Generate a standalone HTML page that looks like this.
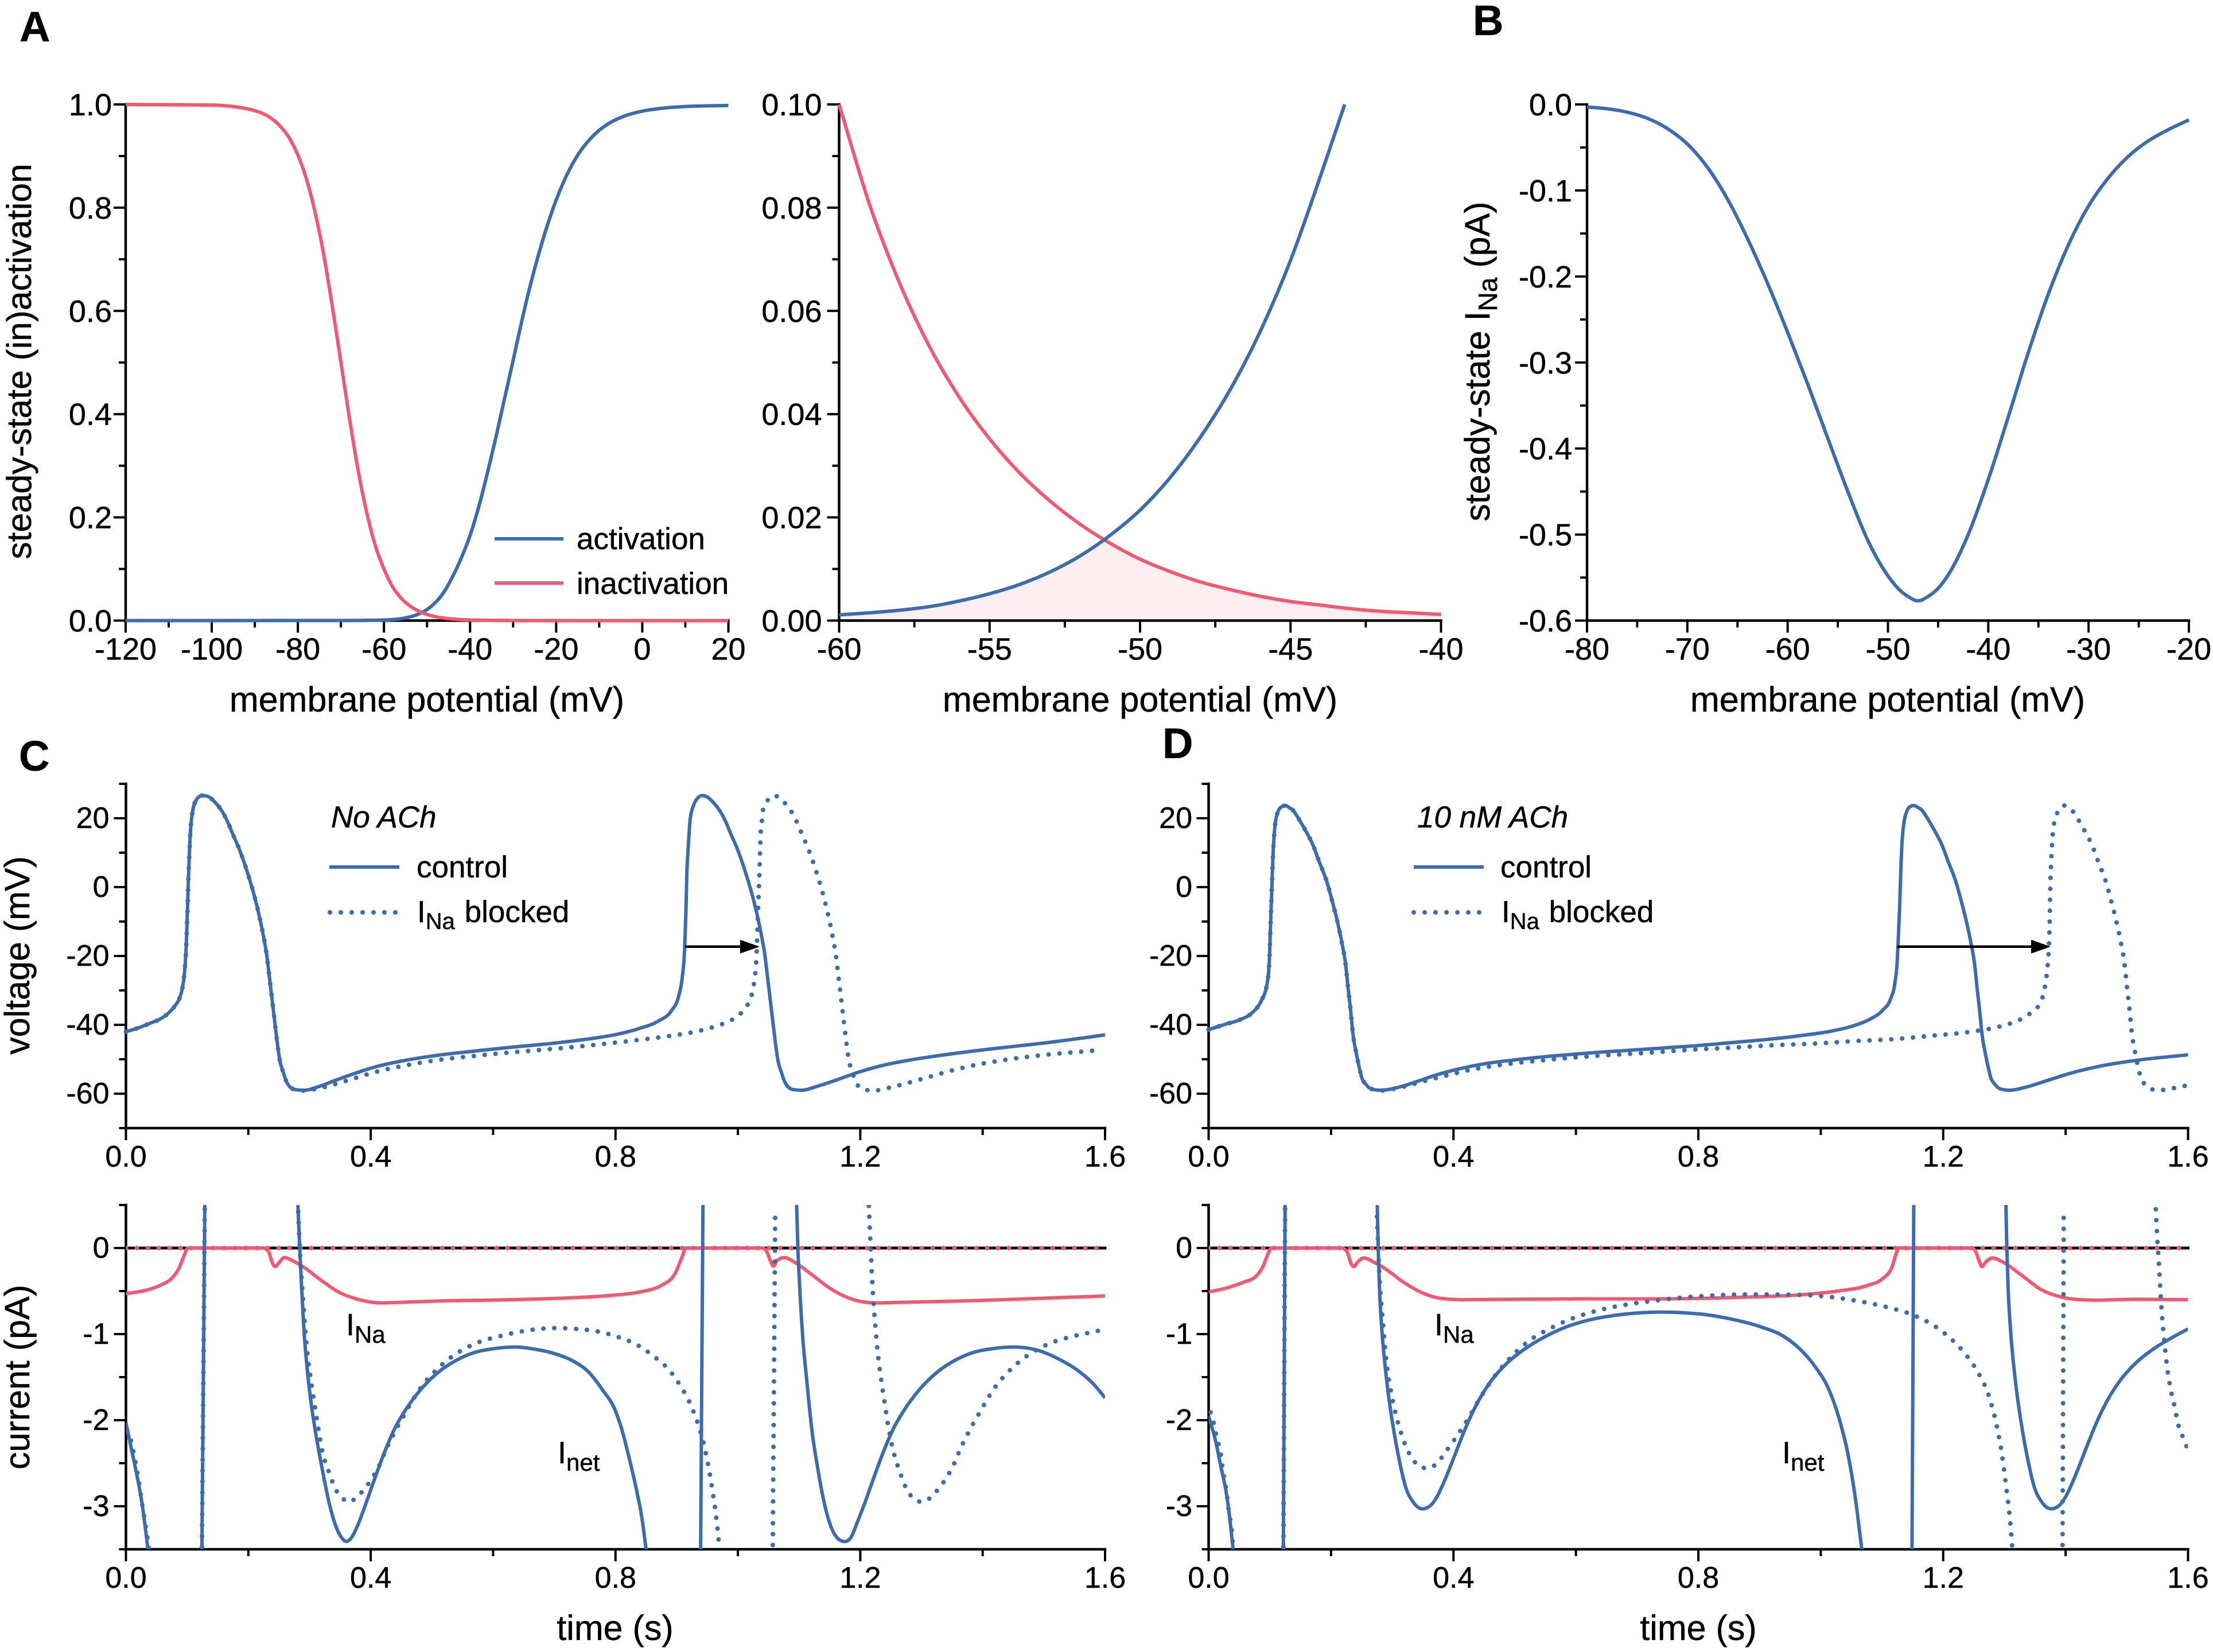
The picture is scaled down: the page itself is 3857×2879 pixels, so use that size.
<!DOCTYPE html>
<html lang="en">
<head>
<meta charset="utf-8">
<title>Steady-state sodium current and action potentials</title>
<style>
html,body{margin:0;padding:0;background:#fff;}
svg{display:block;}
text{font-family:"Liberation Sans",Arial,sans-serif;fill:#000;stroke:#000;stroke-width:.5px;}
</style>
</head>
<body>
<svg id="fig" xmlns="http://www.w3.org/2000/svg" width="3857" height="2879" viewBox="0 0 3857 2879">
<rect x="0" y="0" width="3857" height="2879" fill="#fff"/>
<defs>
<clipPath id="clip-ci"><rect x="219.5" y="2100" width="1706.5" height="600"/></clipPath>
<clipPath id="clip-di"><rect x="2106.5" y="2100" width="1707" height="600"/></clipPath>
</defs>

<g id="panel-a1"></g>
<g id="panel-a2"></g>
<g id="panel-b"></g>
<g id="panel-cv"></g>
<g id="panel-ci"></g>
<g id="panel-dv"></g>
<g id="panel-di"></g>

<g font-weight="bold" font-size="74">
<text x="34" y="72">A</text>
<text x="2567" y="61">B</text>
<text x="33" y="1343">C</text>
<text x="2026" y="1321">D</text>
</g>

<g font-size="61">
<text x="744" y="1240" text-anchor="middle">membrane potential (mV)</text>
<text x="1987" y="1240" text-anchor="middle">membrane potential (mV)</text>
<text x="3290" y="1240" text-anchor="middle">membrane potential (mV)</text>
<text x="1072" y="2858" text-anchor="middle">time (s)</text>
<text x="2960" y="2858" text-anchor="middle">time (s)</text>
<text transform="translate(54,630) rotate(-90)" text-anchor="middle" font-size="60.5">steady-state (in)activation</text>
<text transform="translate(2596,630) rotate(-90)" text-anchor="middle">steady-state I<tspan font-size="46" dy="13">Na</tspan><tspan dy="-13"> (pA)</tspan></text>
<text transform="translate(51,1665) rotate(-90)" text-anchor="middle">voltage (mV)</text>
<text transform="translate(51,2400) rotate(-90)" text-anchor="middle">current (pA)</text>
</g>

<g font-size="53">
<line x1="862" y1="939" x2="982" y2="939" stroke="#3c6cae" stroke-width="6"/>
<text x="1005" y="957">activation</text>
<line x1="862" y1="1016" x2="982" y2="1016" stroke="#ef5a70" stroke-width="6"/>
<text x="1005" y="1035">inactivation</text>
</g>

<g font-size="53">
<text x="577" y="1442" font-style="italic">No ACh</text>
<line x1="574" y1="1511" x2="696" y2="1511" stroke="#3c6cae" stroke-width="6"/>
<text x="726" y="1529">control</text>
<line x1="575" y1="1590" x2="696" y2="1590" stroke="#3c6cae" stroke-width="8" stroke-linecap="round" stroke-dasharray="0 19"/>
<text x="727" y="1607">I<tspan font-size="40" dy="12">Na</tspan><tspan dy="-12" dx="2"> blocked</tspan></text>
</g>

<g font-size="53">
<text x="2470" y="1442" font-style="italic">10 nM ACh</text>
<line x1="2464" y1="1511" x2="2586" y2="1511" stroke="#3c6cae" stroke-width="6"/>
<text x="2615" y="1529">control</text>
<line x1="2464" y1="1590" x2="2585" y2="1590" stroke="#3c6cae" stroke-width="8" stroke-linecap="round" stroke-dasharray="0 19"/>
<text x="2617" y="1607">I<tspan font-size="40" dy="12">Na</tspan><tspan dy="-12" dx="2"> blocked</tspan></text>
</g>

<g font-size="54">
<text x="603" y="2327">I<tspan font-size="42" dy="13">Na</tspan></text>
<text x="972" y="2550">I<tspan font-size="42" dy="13">net</tspan></text>
<text x="2500" y="2327">I<tspan font-size="42" dy="13">Na</tspan></text>
<text x="3106" y="2550">I<tspan font-size="42" dy="13">net</tspan></text>
</g>
</svg>

<script>
/* ---------- Panel A (left) ---------- */
const a1XLabels = ['-120','-100','-80','-60','-40','-20','0','20'];
const a1XMinor = [-110,-90,-70,-50,-30,-10,10];
const a1YLabels = ['0.0','0.2','0.4','0.6','0.8','1.0'];
const a1YMinor = [0.1,0.3,0.5,0.7,0.9];
const a1InactV = [-120,-100,-95,-90,-88,-86,-84,-82,-80,-78,-76,-74,-72,-70,-68,-66,-64,-62,-60,-58,-56,-54,-52,-50,-48,-46,-44,-42,-40,-30,20];
const a1Inact = [1,.9987,.996,.988,.982,.972,.957,.935,.902,.855,.791,.709,.609,.5,.391,.291,.209,.145,.1,.0655,.0432,.0286,.0187,.0119,.0075,.0047,.003,.0018,.0012,.0001,0];
const a1ActV = [-120,-70,-60,-55,-52,-50,-48,-46,-44,-42,-40,-38,-36,-34,-32,-30,-28,-26,-24,-22,-20,-18,-16,-14,-12,-10,-8,-6,-4,-2,0,5,10,20];
const a1Act = [0,.0001,.0011,.0052,.0125,.0214,.0355,.0561,.0862,.122,.165,.22,.285,.355,.43,.504,.58,.65,.712,.767,.815,.855,.888,.914,.934,.95,.962,.971,.978,.983,.987,.993,.996,.998];

/* ---------- Panel A (right) ---------- */
const a2XLabels = ['-60','-55','-50','-45','-40'];
const a2XMinor = [-57.5,-52.5,-47.5,-42.5];
const a2YLabels = ['0.00','0.02','0.04','0.06','0.08','0.10'];
const a2YMinor = [.01,.03,.05,.07,.09];
const a2InactV = [-60,-59,-58,-57,-56,-55,-54,-53,-52,-51,-50,-49,-48,-47,-46,-45,-44,-43,-42,-41,-40];
const a2Inact = [.1,.0808,.0655,.0531,.0432,.0352,.0286,.0232,.0187,.015,.0119,.0095,.0075,.006,.0047,.0037,.003,.0023,.0018,.0015,.0012];
const a2ActV = [-60,-59,-58,-57,-56,-55,-54,-53,-52,-51,-50,-49,-48,-47,-46,-45,-44,-43.2];
const a2Act = [.0011,.0015,.002,.0027,.0038,.0052,.007,.0094,.0125,.0165,.0214,.0277,.0355,.0448,.0561,.0698,.0862,.1];

/* ---------- Panel B ---------- */
const bXLabels = ['-80','-70','-60','-50','-40','-30','-20'];
const bXMinor = [-75,-65,-55,-45,-35,-25];
const bYLabels = ['-0.6','-0.5','-0.4','-0.3','-0.2','-0.1','0.0'];
const bYMinor = [-.55,-.45,-.35,-.25,-.15,-.05];
const bV = [-80,-78,-76,-74,-72,-70,-68,-66,-64,-62,-60,-58,-56,-54,-52,-50,-49,-48,-47,-46,-45,-44,-42,-40,-38,-36,-34,-32,-30,-28,-26,-24,-22,-20];
const bINa = [-.003,-.005,-.009,-.016,-.028,-.046,-.073,-.11,-.156,-.208,-.265,-.325,-.388,-.45,-.507,-.548,-.5625,-.572,-.577,-.572,-.5625,-.547,-.5,-.436,-.363,-.288,-.22,-.163,-.118,-.085,-.06,-.042,-.029,-.018];

/* ---------- Shared time-course axes ---------- */
const timeLabels = ['0.0','0.4','0.8','1.2','1.6'];
const timeMinor = [.2,.6,1,1.4];
const voltLabels = ['-60','-40','-20','0','20'];
const voltMinor = [-70,-50,-30,-10,10,30];
const currLabels = ['-3','-2','-1','0'];
const currMinor = [-3.5,-2.5,-1.5,-.5,.5];

/* ---------- Panel C voltage ---------- */
const cvControlT = [0,.02,.04,.057,.07,.08,.087,.092,.095,.097,.0985,.0997,.101,.102,.1035,.105,.107,.11,.114,.119,.125,
  .1346,.1442,.152,.1585,.1645,.1753,.1848,.1938,.2009,.2093,.217,.2242,.2302,.2344,.2386,.2428,.247,.2517,.2565,.264,.276,
  .292,.314,.344,.374,.41,.451,.511,.571,.63,.69,.73,.768,.804,.84,.87,.891,.903,.909,.913,.915,.9165,.919,.922,.927,.933,.9416,
  .9486,.9582,.966,.9725,.9785,.9893,.9988,1.0078,1.0149,1.0233,1.031,1.0382,1.0442,1.0484,1.0526,1.0568,1.061,1.0657,1.0705,1.078,1.09,1.105,
  1.127,1.163,1.198,1.234,1.282,1.33,1.39,1.449,1.509,1.569,1.6];
const cvControlV = [-42,-40.9,-39.5,-38.2,-36.5,-34.5,-32.5,-29.5,-26,-22,-17,-11,-4,2,9,15,19.5,23,25,26.2,26.6,
  26.3,24.9,23.3,21.6,19.6,15.1,11.2,6.8,2.9,-2.2,-7.7,-13.8,-19.9,-26.1,-32.3,-38.6,-44.8,-50.6,-53.5,-57.1,-58.8,
  -59,-58,-56,-54.1,-52.1,-50.5,-48.8,-47.6,-46.5,-45.5,-44.7,-43.8,-42.7,-41,-38.9,-36,-31.8,-26.3,-17.8,-7.6,3.5,12,19.7,23.5,25.6,26.6,
  26.3,24.9,23.3,21.6,19.6,15.1,11.2,6.8,2.9,-2.2,-7.7,-13.8,-19.9,-26.1,-32.3,-38.6,-44.8,-50.6,-53.5,-57.1,-58.8,-59,
  -58,-55.9,-53.7,-51.9,-50.2,-48.9,-47.5,-46.3,-45.1,-43.7,-42.9];
const cvBlockedLateT = [.292,.314,.344,.374,.41,.451,.511,.571,.63,.69,.74,.788,.837,.89,.933,.971,.985,.997,1.0067,1.0133,1.02,1.0246,1.0276,1.0294,1.0306,1.0318,1.0324,1.033,1.0336,1.0342,1.035,1.0355,1.036,1.0365,1.037,1.039,1.04,1.044,1.0515,1.058,
  1.0646,1.0742,1.082,1.0885,1.0945,1.1053,1.1148,1.1238,1.1309,1.1393,1.147,1.1542,1.1602,1.1644,1.1686,1.1728,1.177,1.1817,1.1865,1.194,1.206,
  1.222,1.249,1.273,1.309,1.351,1.387,1.425,1.468,1.514,1.56,1.593];
const cvBlockedLateV = [-59.1,-58.5,-57.1,-55.5,-53.6,-52,-50.2,-49,-48,-47.1,-46.3,-45.4,-44.4,-43.2,-41.9,-40,-39,-37.8,-36.3,-34.8,-32.7,-29.7,-26.3,-22.9,-19.5,-13,-10,-6.7,-3.7,-.6,2.6,5.9,9,12.2,15.2,18.4,21.4,23.7,25.8,26.6,
  26.3,24.9,23.3,21.6,19.6,15.1,11.2,6.8,2.9,-2.2,-7.7,-13.8,-19.9,-26.1,-32.3,-38.6,-44.8,-50.6,-53.5,-57.1,-58.8,
  -59.1,-58.2,-57.1,-55.3,-53.2,-51.7,-50.5,-49.4,-48.5,-47.8,-47.3];
const cArrowT = [.916,1.0355];
const cArrowV = [-17.3];

/* ---------- Panel C current ---------- */
const ciNetT = [0,.01,.0185,.027,.036,null,.124,.129,null,.281,.284,.287,.291,.296,.302,.311,.32,.332,.344,.353,.36,.368,.38,.392,.404,.421,.439,.457,.481,.511,.541,.571,.6,.636,.672,.702,.7325,.756,.78,.798,.81,.822,.834,.843,.85,null,.939,.943,null,1.096,1.098,1.101,1.106,1.112,1.121,1.13,1.142,1.154,1.166,1.175,1.184,1.196,1.207,1.219,1.236,1.254,1.272,1.296,1.326,1.356,1.386,1.415,1.451,1.491,1.527,1.557,1.581,1.6];
const ciNetI = [-2.03,-2.37,-2.66,-3,-3.5,null,-3.6,.6,null,.5,0,-.45,-.97,-1.39,-1.77,-2.19,-2.54,-2.96,-3.25,-3.37,-3.41,-3.37,-3.2,-2.97,-2.73,-2.4,-2.1,-1.88,-1.65,-1.44,-1.3,-1.21,-1.17,-1.15,-1.18,-1.23,-1.32,-1.44,-1.66,-1.86,-2.1,-2.43,-2.8,-3.13,-3.5,null,-3.6,.6,null,.5,0,-.45,-1.04,-1.5,-2.12,-2.54,-2.99,-3.27,-3.39,-3.41,-3.37,-3.17,-2.97,-2.73,-2.4,-2.1,-1.88,-1.65,-1.44,-1.3,-1.21,-1.17,-1.15,-1.19,-1.3,-1.43,-1.58,-1.74];
const ciBlockedT = [.002,.008,.014,.021,.027,.033,.038,null,.124,.129,null,.2815,.284,.288,.2925,.297,.302,.307,.314,.32,.332,.344,.353,.363,.375,.386,.399,.413,.427,.442,.457,.481,.505,.535,.571,.613,.654,.702,.737,.771,.807,.834,.861,.888,.906,.924,.936,.946,.952,.958,.965,.97,null,1.057,1.061,null,1.214,1.217,1.22,1.2245,1.229,1.234,1.239,1.246,1.253,1.265,1.277,1.286,1.301,1.313,1.324,1.337,1.351,1.365,1.38,1.395,1.419,1.443,1.473,1.509,1.551,1.59];
const ciBlockedI = [-2.12,-2.23,-2.43,-2.71,-3,-3.27,-3.5,null,-3.6,.6,null,.42,0,-.45,-.9,-1.25,-1.52,-1.76,-2.08,-2.33,-2.61,-2.82,-2.9,-2.95,-2.91,-2.83,-2.71,-2.54,-2.31,-2.1,-1.91,-1.63,-1.43,-1.25,-1.11,-1.02,-.96,-.93,-.94,-.97,-1.04,-1.12,-1.25,-1.42,-1.6,-1.84,-2.07,-2.33,-2.54,-2.8,-3.15,-3.5,null,-3.45,.42,null,.49,0,-.45,-.9,-1.25,-1.52,-1.76,-2.08,-2.33,-2.61,-2.82,-2.9,-2.95,-2.91,-2.83,-2.71,-2.54,-2.31,-2.1,-1.91,-1.63,-1.43,-1.25,-1.11,-1.02,-.96];
const ciNaT = [0,.033,.057,.075,.087,.096,.101,.224,.233,.239,.244,.25,.259,.272,.29,.32,.35,.374,.398,.416,.451,.511,.63,.731,.792,.84,.876,.897,.909,.915,1.04,1.047,1.053,1.058,1.064,1.076,1.091,1.121,1.151,1.181,1.204,1.228,1.27,1.39,1.509,1.6];
const ciNaI = [-.53,-.49,-.43,-.35,-.23,-.07,0,0,-.04,-.17,-.215,-.17,-.11,-.146,-.22,-.38,-.52,-.585,-.625,-.637,-.63,-.615,-.6,-.577,-.55,-.51,-.43,-.3,-.1,0,0,-.04,-.146,-.21,-.146,-.11,-.157,-.31,-.47,-.58,-.625,-.637,-.63,-.61,-.58,-.557];
const naBlockedT = [0,1.6];
const naBlockedI = [0,0];

/* ---------- Panel D voltage ---------- */
const dvControlT = [0,.026,.05,.071,.086,.095,.099,.101,.103,.105,.108,.113,.119,.126,
  .1306,.1374,.1449,.1574,.17,.1804,.1934,.2021,.2101,.2174,.2238,.2278,.2318,.2352,.2374,.2409,.2467,.2501,.257,.2655,.281,
  .313,.343,.373,.409,.451,.499,.559,.619,.678,.744,.801,.858,.915,.973,1.018,1.053,1.081,1.101,1.114,1.121,1.125,1.127,1.129,1.131,1.133,1.136,1.141,1.146,1.152,
  1.1582,1.165,1.1725,1.185,1.1976,1.208,1.221,1.2297,1.2377,1.245,1.2514,1.2554,1.2594,1.2628,1.265,1.2685,1.2743,1.2777,1.2846,1.2931,1.3086,
  1.333,1.373,1.413,1.459,1.516,1.6];
const dvControlV = [-41.4,-39.9,-38.6,-36.5,-33,-28.5,-22,-11.8,-1.6,8.6,17.1,21.8,23.3,23.7,
  23.2,22.4,20.5,16.7,12.4,7.5,1.4,-4.2,-9.8,-15.9,-22.5,-29.3,-35.6,-41.7,-44.7,-48,-52.9,-55.3,-57.3,-58.6,-59,
  -58,-56.3,-54.5,-52.8,-51.3,-50.2,-49.1,-48.2,-47.5,-46.7,-46,-45.1,-44.2,-43,-41.8,-40.3,-38.3,-35.8,-32.5,-28,-21.2,-13.5,-5,6,13.7,18.8,22.2,23.4,23.7,
  23.2,22.4,20.5,16.7,12.4,7.5,1.4,-4.2,-9.8,-15.9,-22.5,-29.3,-35.6,-41.7,-44.7,-48,-52.9,-55.3,-57.3,-58.6,-59,
  -58.2,-56,-53.8,-51.9,-50.3,-48.7];
const dvBlockedLateT = [.281,.313,.349,.391,.427,.475,.529,.583,.643,.702,.75,.801,.858,.915,.996,1.058,1.116,1.179,1.241,1.29,1.316,1.338,1.359,1.367,1.371,1.373,1.374,1.375,1.376,1.378,1.38,1.386,1.393,1.3986,
  1.4032,1.41,1.4175,1.43,1.4426,1.453,1.466,1.4747,1.4827,1.49,1.4964,1.5004,1.5044,1.5078,1.51,1.5135,1.5193,1.5227,1.5296,1.5381,1.5536,
  1.5667,1.5793,1.5953];
const dvBlockedLateV = [-59.1,-58.2,-56.5,-54.6,-53.1,-51.7,-50.6,-49.7,-48.9,-48.3,-47.7,-47.1,-46.6,-46,-45.4,-44.7,-44.2,-43.2,-42.1,-40.6,-39.2,-37.2,-33.5,-28,-22,-16,-9.3,.1,6,12.9,17.1,21.4,23.3,23.7,
  23.2,22.4,20.5,16.7,12.4,7.5,1.4,-4.2,-9.8,-15.9,-22.5,-29.3,-35.6,-41.7,-44.7,-48,-52.9,-55.3,-57.3,-58.6,-59,
  -58.7,-58.3,-57.7];
const dArrowT = [1.127,1.3755];
const dArrowV = [-17.3];

/* ---------- Panel D current ---------- */
const diNetT = [0,.011,.02,.029,.035,.04,null,.122,.125,null,.2755,.277,.279,.283,.288,.294,.302,.311,.322,.334,.349,.361,.373,.385,.397,.409,.424,.442,.463,.487,.517,.547,.583,.619,.666,.738,.801,.853,.904,.938,.964,.99,1.013,1.03,1.044,1.056,1.067,null,1.149,1.152,null,1.3025,1.304,1.306,1.31,1.315,1.321,1.329,1.338,1.349,1.361,1.376,1.388,1.4,1.412,1.424,1.436,1.451,1.469,1.49,1.514,1.544,1.574,1.6];
const diNetI = [-1.95,-2.23,-2.54,-2.85,-3.17,-3.5,null,-3.6,.6,null,.5,0,-.45,-.95,-1.35,-1.72,-2.1,-2.45,-2.78,-2.95,-3.03,-3,-2.89,-2.71,-2.5,-2.28,-2.02,-1.76,-1.53,-1.34,-1.17,-1.04,-.92,-.84,-.78,-.744,-.765,-.824,-.92,-1.02,-1.16,-1.37,-1.64,-1.98,-2.38,-2.88,-3.5,null,-3.6,.6,null,.5,0,-.45,-.95,-1.35,-1.72,-2.1,-2.45,-2.78,-2.95,-3.03,-3,-2.89,-2.71,-2.5,-2.28,-2.02,-1.76,-1.53,-1.34,-1.17,-1.04,-.94];
const diBlockedT = [.003,.008,.014,.019,.023,.029,.033,.038,.04,null,.122,.125,null,.275,.277,.28,.283,.286,.289,.293,.298,.304,.311,.322,.332,.346,.358,.373,.388,.406,.424,.442,.463,.487,.523,.559,.601,.643,.685,.732,.761,.813,.887,.973,1.018,1.064,1.11,1.15,1.196,1.23,1.253,1.276,1.287,1.296,1.303,1.309,1.313,null,1.395,1.397,null,1.5473,1.5501,1.5524,1.5553,1.5593,1.5627,1.5667,1.5713,1.5782,1.5839,1.5936,1.5982];
const diBlockedI = [-1.91,-2.02,-2.23,-2.35,-2.57,-2.82,-3.06,-3.3,-3.5,null,-3.6,.6,null,.365,0,-.45,-.72,-.97,-1.22,-1.46,-1.67,-1.88,-2.07,-2.3,-2.44,-2.54,-2.56,-2.5,-2.36,-2.18,-1.98,-1.76,-1.53,-1.32,-1.08,-.93,-.8,-.713,-.654,-.609,-.584,-.555,-.539,-.546,-.57,-.62,-.69,-.776,-.957,-1.18,-1.4,-1.75,-2.05,-2.4,-2.78,-3.15,-3.5,null,-3.45,.4,null,.45,.07,-.18,-.56,-.94,-1.19,-1.43,-1.63,-1.85,-2.05,-2.23,-2.32];
const diNaT = [0,.026,.056,.077,.089,.098,.102,.217,.226,.232,.237,.244,.254,.268,.289,.319,.349,.379,.415,.499,.619,.744,.858,.973,1.03,1.076,1.101,1.116,1.124,1.128,1.247,1.253,1.259,1.263,1.269,1.28,1.296,1.327,1.361,1.396,1.424,1.447,1.516,1.6];
const diNaI = [-.51,-.47,-.4,-.33,-.21,-.05,0,0,-.04,-.17,-.215,-.157,-.115,-.157,-.243,-.4,-.52,-.584,-.6,-.595,-.59,-.59,-.574,-.54,-.497,-.435,-.355,-.226,-.05,0,0,-.04,-.157,-.215,-.167,-.115,-.157,-.31,-.487,-.574,-.6,-.605,-.595,-.6];

/* ---------- Drawing ---------- */
const NS = 'http://www.w3.org/2000/svg';
const BLUE = '#3c6cae';
const PINK = '#ef5a70';

function linScale(d0, d1, r0, r1) {
  return function (v) { return r0 + (v - d0) / (d1 - d0) * (r1 - r0); };
}

function drawLine(parent, x1, y1, x2, y2, width, name) {
  const el = document.createElementNS(NS, 'line');
  
  
  el.setAttribute('x1', x1);
  el.setAttribute('y1', y1);
  el.setAttribute('x2', x2);
  el.setAttribute('y2', y2);
  el.setAttribute('stroke', '#000');
  el.setAttribute('stroke-width', width);
  el.setAttribute('stroke-linecap', 'square');
  parent.appendChild(el);
  return el;
}

function drawLabel(parent, x, y, str, size, anchor, name) {
  const el = document.createElementNS(NS, 'text');
  
  
  el.setAttribute('x', x);
  el.setAttribute('y', y);
  el.setAttribute('font-size', size);
  el.setAttribute('text-anchor', anchor);
  el.textContent = str;
  parent.appendChild(el);
}

/* Monotone cubic with Steffen-limited tangents (x strictly increasing). */
function monotonePath(px, py) {
  const n = px.length;
  let d = 'M' + px[0].toFixed(2) + ' ' + py[0].toFixed(2);
  if (n < 3) {
    for (let i = 1; i < n; i++) d += 'L' + px[i].toFixed(2) + ' ' + py[i].toFixed(2);
    return d;
  }
  const dx = [], sl = [], m = new Array(n);
  for (let i = 0; i < n - 1; i++) {
    dx[i] = px[i + 1] - px[i];
    sl[i] = (py[i + 1] - py[i]) / dx[i];
  }
  m[0] = sl[0];
  m[n - 1] = sl[n - 2];
  for (let i = 1; i < n - 1; i++) {
    if (sl[i - 1] * sl[i] <= 0) {
      m[i] = 0;
    } else {
      const p = (sl[i - 1] * dx[i] + sl[i] * dx[i - 1]) / (dx[i - 1] + dx[i]);
      m[i] = 2 * Math.sign(sl[i]) * Math.min(Math.abs(sl[i - 1]), Math.abs(sl[i]), 0.5 * Math.abs(p));
    }
  }
  for (let i = 0; i < n - 1; i++) {
    const h = dx[i] / 3;
    d += 'C' + (px[i] + h).toFixed(2) + ' ' + (py[i] + m[i] * h).toFixed(2) + ' ' +
         (px[i + 1] - h).toFixed(2) + ' ' + (py[i + 1] - m[i + 1] * h).toFixed(2) + ' ' +
         px[i + 1].toFixed(2) + ' ' + py[i + 1].toFixed(2);
  }
  return d;
}

function seriesPath(xs, ys, sx, sy) {
  let d = '', px = [], py = [];
  for (let i = 0; i <= xs.length; i++) {
    if (i === xs.length || xs[i] === null || ys[i] === null) {
      if (px.length) d += monotonePath(px, py);
      px = [];
      py = [];
    } else {
      const x = sx(xs[i]);
      if (!px.length || x > px[px.length - 1]) {
        px.push(x);
        py.push(sy(ys[i]));
      }
    }
  }
  return d;
}

function drawSolid(parent, xs, ys, sx, sy, color, name, clip) {
  const el = document.createElementNS(NS, 'path');
  
  
  el.setAttribute('d', seriesPath(xs, ys, sx, sy));
  el.setAttribute('fill', 'none');
  el.setAttribute('stroke', color);
  el.setAttribute('stroke-width', '6');
  el.setAttribute('stroke-linejoin', 'round');
  if (clip) el.setAttribute('clip-path', 'url(#' + clip + ')');
  parent.appendChild(el);
}

function drawDotted(parent, xs, ys, sx, sy, color, name, clip) {
  const el = document.createElementNS(NS, 'path');
  
  
  el.setAttribute('d', seriesPath(xs, ys, sx, sy));
  el.setAttribute('fill', 'none');
  el.setAttribute('stroke', color);
  el.setAttribute('stroke-width', '8');
  el.setAttribute('stroke-linecap', 'round');
  el.setAttribute('stroke-dasharray', '0 19');
  if (clip) el.setAttribute('clip-path', 'url(#' + clip + ')');
  parent.appendChild(el);
}

function drawAxes(g, sx, sy, xDom, yDom, xLabels, xMinor, yLabels, yMinor, fontSize, gap, yBaseline, xBaseline) {
  const axisX = sx(xDom[0]), axisY = sy(yDom[0]);
  drawLine(g, axisX, sy(yDom[1]), axisX, axisY, 4.5, 'y-axis-line');
  drawLine(g, axisX, axisY, sx(xDom[1]), axisY, 4.5, 'x-axis-line');
  xLabels.forEach(function (lab) {
    const x = sx(parseFloat(lab));
    drawLine(g, x, axisY, x, axisY + 19, 4, 'x-major-tick');
    drawLabel(g, x, axisY + xBaseline, lab, fontSize, 'middle', 'x-tick-label');
  });
  xMinor.forEach(function (v) {
    drawLine(g, sx(v), axisY, sx(v), axisY + 10, 4, 'x-minor-tick');
  });
  yLabels.forEach(function (lab) {
    const y = sy(parseFloat(lab));
    drawLine(g, axisX - 19, y, axisX, y, 4, 'y-major-tick');
    drawLabel(g, axisX - gap, y + yBaseline, lab, fontSize, 'end', 'y-tick-label');
  });
  yMinor.forEach(function (v) {
    drawLine(g, axisX - 10, sy(v), axisX, sy(v), 4, 'y-minor-tick');
  });
}

function interp(xs, ys, x) {
  if (x < xs[0] || x > xs[xs.length - 1]) return Infinity;
  for (let i = 0; i < xs.length - 1; i++) {
    if (x <= xs[i + 1]) {
      return ys[i] + (ys[i + 1] - ys[i]) * (x - xs[i]) / (xs[i + 1] - xs[i]);
    }
  }
  return ys[ys.length - 1];
}

function drawArrow(parent, sx, sy, arrowT, arrowV, name) {
  const y = sy(arrowV[0]), x0 = sx(arrowT[0]), x1 = sx(arrowT[1]);
  drawLine(parent, x0, y, x1 - 30, y, 4.5, name + '-shaft');
  const head = document.createElementNS(NS, 'polygon');
  
  
  head.setAttribute('points', (x1 - 34) + ',' + (y - 12) + ' ' + x1 + ',' + y + ' ' + (x1 - 34) + ',' + (y + 12));
  head.setAttribute('fill', '#000');
  parent.appendChild(head);
}

/* Panel A left */
(function () {
  const g = document.getElementById('panel-a1');
  const sx = linScale(-120, 20, 219, 1269.5), sy = linScale(0, 1, 1081.5, 182);
  drawAxes(g, sx, sy, [-120, 20], [0, 1], a1XLabels, a1XMinor, a1YLabels, a1YMinor, 54, 24, 19, 68);
  drawSolid(g, a1ActV, a1Act, sx, sy, BLUE, 'activation-curve');
  drawSolid(g, a1InactV, a1Inact, sx, sy, PINK, 'inactivation-curve');
})();

/* Panel A right */
(function () {
  const g = document.getElementById('panel-a2');
  const sx = linScale(-60, -40, 1462.5, 2511.5), sy = linScale(0, .1, 1081.5, 182);
  let pts = sx(-60) + ',' + sy(0);
  for (let v = -60; v <= -40; v += .25) {
    const m = Math.min(interp(a2InactV, a2Inact, v), interp(a2ActV, a2Act, v));
    pts += ' ' + sx(v).toFixed(2) + ',' + sy(m).toFixed(2);
  }
  pts += ' ' + sx(-40) + ',' + sy(0);
  const fill = document.createElementNS(NS, 'polygon');
  
  
  fill.setAttribute('points', pts);
  fill.setAttribute('fill', '#fdeef1');
  g.appendChild(fill);
  drawAxes(g, sx, sy, [-60, -40], [0, .1], a2XLabels, a2XMinor, a2YLabels, a2YMinor, 54, 30, 19, 68);
  drawSolid(g, a2InactV, a2Inact, sx, sy, PINK, 'inactivation-curve-zoom');
  drawSolid(g, a2ActV, a2Act, sx, sy, BLUE, 'activation-curve-zoom');
})();

/* Panel B */
(function () {
  const g = document.getElementById('panel-b');
  const sx = linScale(-80, -20, 2766, 3815), sy = linScale(-.6, 0, 1081.5, 182);
  drawAxes(g, sx, sy, [-80, -20], [-.6, 0], bXLabels, bXMinor, bYLabels, bYMinor, 54, 26, 19, 68);
  drawSolid(g, bV, bINa, sx, sy, BLUE, 'steady-state-ina-curve');
})();

function voltagePanel(id, x0, x1, gap, ctlT, ctlV, lateT, lateV, spikeCount, arrowT, arrowV, prefix) {
  const g = document.getElementById(id);
  const sx = linScale(0, 1.6, x0, x1), sy = linScale(-70, 30, 1966, 1366);
  drawAxes(g, sx, sy, [0, 1.6], [-70, 30], timeLabels, timeMinor, voltLabels, voltMinor, 52, gap, 17, 67);
  const bT = ctlT.slice(0, spikeCount).concat(lateT);
  const bV2 = ctlV.slice(0, spikeCount).concat(lateV);
  drawDotted(g, bT, bV2, sx, sy, BLUE, prefix + '-voltage-ina-blocked');
  drawSolid(g, ctlT, ctlV, sx, sy, BLUE, prefix + '-voltage-control');
  drawArrow(g, sx, sy, arrowT, arrowV, prefix + '-delay-arrow');
}

function currentPanel(id, x0, x1, gap, clip, netT, netI, blkT, blkI, naT, naI, prefix) {
  const g = document.getElementById(id);
  const sx = linScale(0, 1.6, x0, x1), sy = linScale(-3.5, .5, 2700, 2100);
  drawAxes(g, sx, sy, [0, 1.6], [-3.5, .5], timeLabels, timeMinor, currLabels, currMinor, 52, gap, 17, 67);
  drawLine(g, sx(0), sy(0), sx(1.6), sy(0), 5, prefix + '-zero-line');
  drawDotted(g, naBlockedT, naBlockedI, sx, sy, PINK, prefix + '-ina-blocked-trace', clip);
  drawSolid(g, naT, naI, sx, sy, PINK, prefix + '-ina-control-trace', clip);
  drawDotted(g, blkT, blkI, sx, sy, BLUE, prefix + '-inet-blocked-trace', clip);
  drawSolid(g, netT, netI, sx, sy, BLUE, prefix + '-inet-control-trace', clip);
}

voltagePanel('panel-cv', 219.5, 1926, 29, cvControlT, cvControlV, cvBlockedLateT, cvBlockedLateV, 42, cArrowT, cArrowV, 'c');
currentPanel('panel-ci', 219.5, 1926, 29, 'clip-ci', ciNetT, ciNetI, ciBlockedT, ciBlockedI, ciNaT, ciNaI, 'c');
voltagePanel('panel-dv', 2106.5, 3813.5, 28.5, dvControlT, dvControlV, dvBlockedLateT, dvBlockedLateV, 34, dArrowT, dArrowV, 'd');
currentPanel('panel-di', 2106.5, 3813.5, 28.5, 'clip-di', diNetT, diNetI, diBlockedT, diBlockedI, diNaT, diNaI, 'd');
</script>
</body>
</html>
